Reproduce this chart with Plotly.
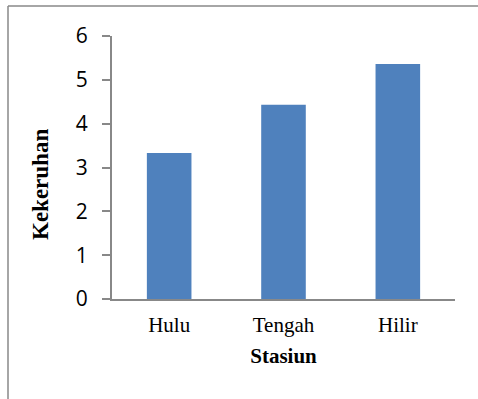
import plotly.graph_objects as go

categories = ["Hulu", "Tengah", "Hilir"]
values = [3.33, 4.43, 5.36]
y_ticks = [0, 1, 2, 3, 4, 5, 6]

W, H = 478, 399
L, R, T, B = 112, 23, 36, 100
pw, ph = W - L - R, H - T - B

def px_x(px):
    return (px - L) / pw

def px_y(py):
    return (H - B - py) / ph

fig = go.Figure(go.Bar(x=categories, y=values, marker_color="#4F81BD",
                       marker_line_width=0, width=0.39))

fig.update_layout(
    width=W, height=H,
    margin=dict(l=L, r=R, t=T, b=B),
    paper_bgcolor="white", plot_bgcolor="white",
    showlegend=False,
    xaxis=dict(
        showline=True, linecolor="#888888", linewidth=2,
        ticks="", showgrid=False,
        ticklabelstandoff=6,
        tickfont=dict(family="Liberation Serif", size=21, color="black"),
        title=dict(text="<b>Stasiun</b>", standoff=12,
                   font=dict(family="Liberation Serif", size=21, color="black")),
    ),
    yaxis=dict(
        range=[0, 6], tickvals=y_ticks,
        showline=True, linecolor="#888888", linewidth=2,
        ticks="outside", ticklen=8, tickcolor="#888888", tickwidth=2,
        showgrid=False, zeroline=False,
        ticklabelstandoff=10,
        tickfont=dict(family="Open Sans", size=21, color="black"),
    ),
    annotations=[
        dict(text="<b>Kekeruhan</b>", textangle=-90, showarrow=False,
             xref="paper", yref="paper", x=px_x(40), y=px_y(185),
             xanchor="center", yanchor="middle",
             font=dict(family="Liberation Serif", size=23, color="black")),
    ],
    shapes=[
        dict(type="line", xref="paper", yref="paper",
             x0=px_x(8), x1=px_x(480), y0=px_y(6), y1=px_y(6),
             line=dict(color="#888888", width=1.5)),
        dict(type="line", xref="paper", yref="paper",
             x0=px_x(8), x1=px_x(8), y0=px_y(6), y1=px_y(402),
             line=dict(color="#888888", width=1.5)),
    ],
)

fig.write_html("out.html", config={"displayModeBar": False},
               post_script="document.body.style.margin='0';document.body.style.overflow='hidden';")
